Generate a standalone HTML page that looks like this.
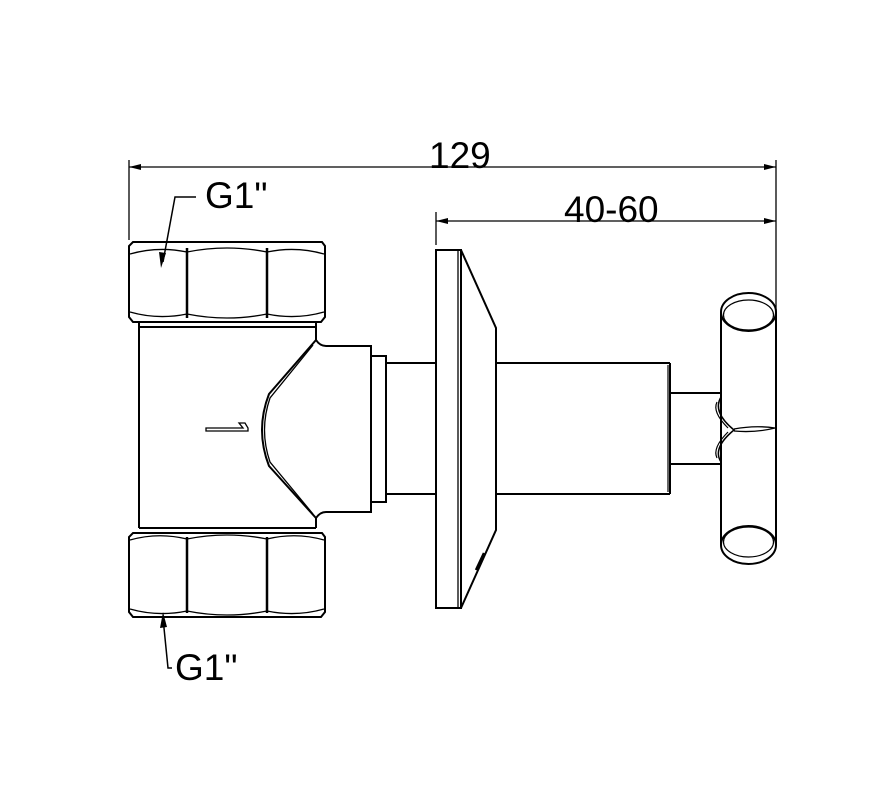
<!DOCTYPE html>
<html><head><style>html,body{margin:0;padding:0;background:#fff}svg{display:block}</style></head>
<body>
<svg width="888" height="788" viewBox="0 0 888 788" xmlns="http://www.w3.org/2000/svg">
<g fill="none" stroke="#000" stroke-width="2">
<line x1="129" y1="160" x2="129" y2="240" stroke-width="1.3"/>
<line x1="776" y1="160" x2="776" y2="430" stroke-width="1.3"/>
<line x1="129" y1="167" x2="776" y2="167" stroke-width="1.3"/>
<line x1="436" y1="212" x2="436" y2="245" stroke-width="1.3"/>
<line x1="436" y1="221" x2="776" y2="221" stroke-width="1.3"/>
<path d="M133,242 H322 L325,246 V317 L321,322 H133 L129,317 V246 Z"/>
<path d="M130,254 Q158,246 187,252 Q227,244 267,252 Q296,246 324,254" stroke-width="1.3"/>
<path d="M130,312 Q158,320 187,314 Q227,322 267,314 Q296,320 324,312" stroke-width="1.3"/>
<line x1="187" y1="248" x2="187" y2="318" stroke-width="2.5"/><line x1="267" y1="248" x2="267" y2="318" stroke-width="2.5"/>
<line x1="139" y1="322" x2="139" y2="328"/><line x1="316" y1="322" x2="316" y2="328"/>
<line x1="139" y1="327" x2="316" y2="327"/>
<line x1="139" y1="327" x2="139" y2="528"/>
<line x1="139" y1="528" x2="316" y2="528"/>
<path d="M133,533 H322 L325,537 V612 L321,617 H133 L129,612 V537 Z"/>
<path d="M130,540 Q158,532 187,539 Q227,531 267,539 Q296,532 324,540" stroke-width="1.3"/>
<path d="M130,609 Q158,617 187,611 Q227,619 267,611 Q296,617 324,609" stroke-width="1.3"/>
<line x1="187" y1="537" x2="187" y2="613" stroke-width="2.5"/><line x1="267" y1="537" x2="267" y2="613" stroke-width="2.5"/>
<line x1="316" y1="327" x2="316" y2="340"/>
<line x1="316" y1="518" x2="316" y2="528"/>
<path d="M316,340 Q320,346 326,346 H371 V512 H326 Q320,512 316,518 L269,466 Q255,430 269,394 Z"/>
<path d="M313,345 L270,398 Q259,430 270,462 L313,514" stroke-width="1.3"/>
<rect x="371" y="356" width="15" height="146"/>
<line x1="386" y1="363" x2="436" y2="363"/><line x1="386" y1="494" x2="436" y2="494"/>
<path d="M206,428 H243 L239,423 H245 L248,428 V431 H206 Z" stroke-width="1.3"/>
<rect x="436" y="250" width="25" height="358"/>
<line x1="458" y1="251" x2="458" y2="607" stroke-width="1.3"/>
<path d="M461,250 L496,328 V530 L461,608"/>
<path d="M476,570 L484,553" stroke-width="2.5"/>
<line x1="496" y1="363" x2="670" y2="363"/><line x1="496" y1="494" x2="670" y2="494"/>
<line x1="670" y1="363" x2="670" y2="494"/><line x1="668" y1="365" x2="668" y2="492" stroke-width="1.2"/>
<line x1="670" y1="393" x2="721" y2="393"/><line x1="670" y1="464" x2="721" y2="464"/>
<path d="M721,397 Q712,412 734,430 Q712,448 721,462" stroke-width="1.5"/>
<path d="M717,402 Q712,412 728,428 M717,458 Q712,448 728,432" stroke-width="1.2"/>
<path d="M734,429 Q755,425 775,428 Q755,433 734,431" stroke-width="1.3"/>
<line x1="721" y1="312" x2="721" y2="545"/>
<line x1="776" y1="312" x2="776" y2="545"/>
<ellipse cx="748.5" cy="312" rx="27.5" ry="19"/>
<ellipse cx="748.5" cy="315" rx="25" ry="15" stroke-width="1.2"/>
<ellipse cx="748.5" cy="545" rx="27.5" ry="19"/>
<ellipse cx="748.5" cy="542" rx="25" ry="15" stroke-width="1.2"/>
<path d="M196,197 H175 L163,262" stroke-width="1.5"/>
<path d="M172,668 H168 L163,618" stroke-width="1.5"/>
</g>
<g fill="#000">
<path d="M129,167 L141,164 L141,170 Z"/>
<path d="M776,167 L764,164 L764,170 Z"/>
<path d="M436,221 L448,218 L448,224 Z"/>
<path d="M776,221 L764,218 L764,224 Z"/>
<path d="M161,268 L159,252 L166,253 Z"/>
<path d="M163,612 L160,628 L167,627 Z"/>
</g>
<g font-family="'Liberation Sans',sans-serif" font-size="37" fill="#000">
<text x="429" y="168">129</text>
<text x="564" y="222">40-60</text>
<text x="205" y="208">G1"</text>
<text x="175" y="680">G1"</text>
</g>
</svg>
</body></html>
